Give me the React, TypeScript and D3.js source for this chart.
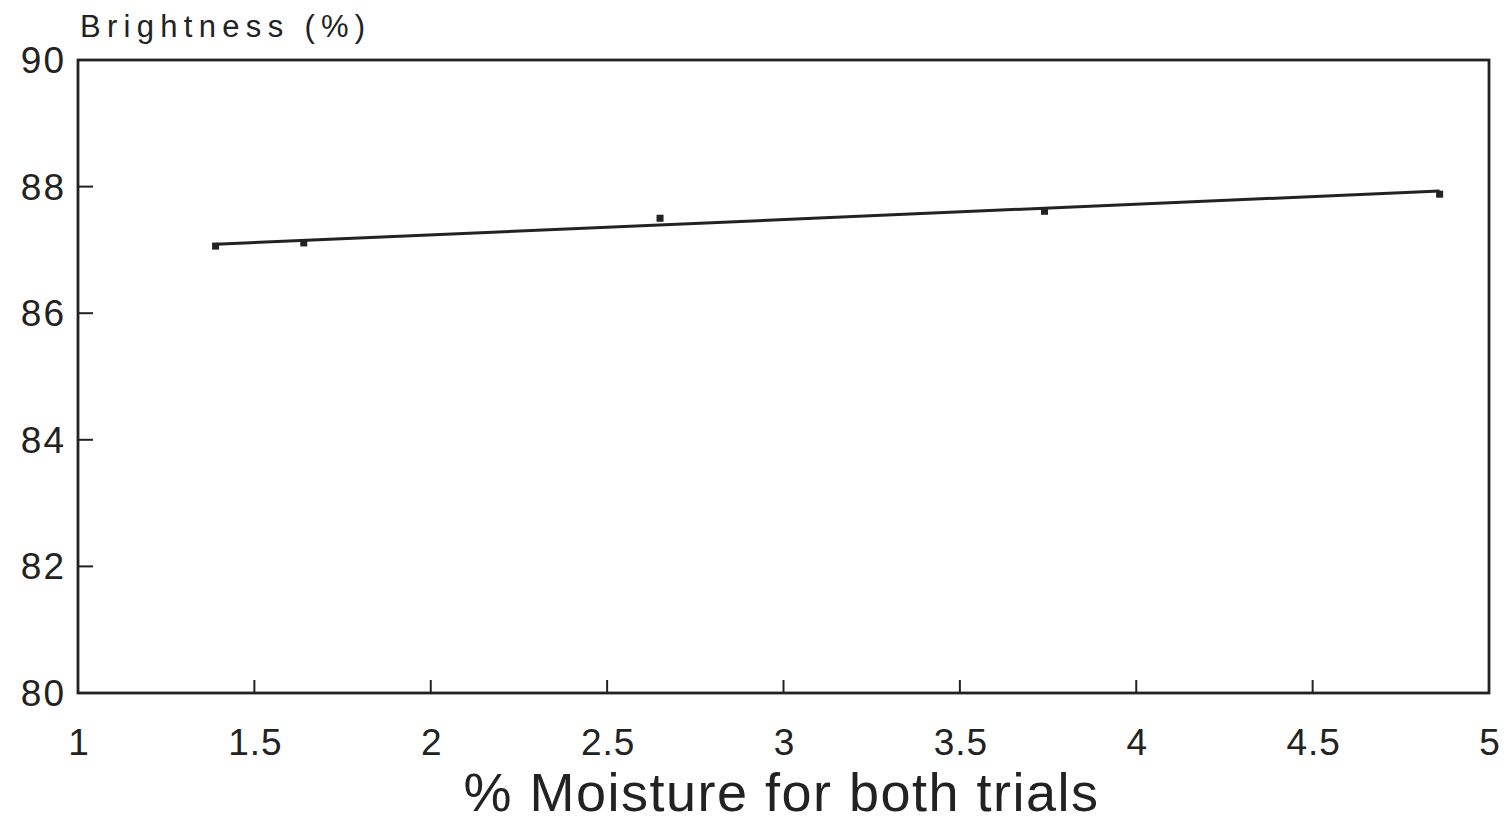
import React from "react";
import * as d3 from "d3";

const moisture = [1.39, 1.64, 2.65, 3.74, 4.86];
const brightness = [87.06, 87.11, 87.5, 87.61, 87.88];
const fitX = [1.39, 4.86];
const fitY = [87.09, 87.93];
const xTicks = [1, 1.5, 2, 2.5, 3, 3.5, 4, 4.5, 5];
const yTicks = [80, 82, 84, 86, 88, 90];
const xLabel = "% Moisture for both trials";
const yLabel = "Brightness (%)";

const W = 1509;
const H = 821;
const left = 78, right = 1489, top = 60, bottom = 693;
const font = "'Liberation Sans', Arial, sans-serif";

export default function App() {
  const x = d3.scaleLinear().domain([1, 5]).range([left, right]);
  const y = d3.scaleLinear().domain([80, 90]).range([bottom, top]);
  const line = d3.line<number>().x((d, i) => x(fitX[i])).y((d, i) => y(fitY[i]));
  return (
    <svg width={W} height={H} style={{ position: "absolute", left: 0, top: 0, background: "#fff" }}>
      <rect x={0} y={0} width={W} height={H} fill="#fff" />
      <rect x={left} y={top} width={right - left} height={bottom - top} fill="none" stroke="#222" strokeWidth={2.8} />
      {yTicks.map((t) => (
        <g key={"y" + t}>
          {t !== 80 && t !== 90 && (
            <line x1={left} x2={left + 15} y1={y(t)} y2={y(t)} stroke="#222" strokeWidth={2} />
          )}
          <text x={66} y={y(t) + 13} textAnchor="end" fontFamily={font} fontSize={37} letterSpacing={2} fill="#222">
            {t}
          </text>
        </g>
      ))}
      {xTicks.map((t) => (
        <g key={"x" + t}>
          {t !== 1 && t !== 5 && (
            <line x1={x(t)} x2={x(t)} y1={bottom} y2={bottom - 13} stroke="#222" strokeWidth={2} />
          )}
          <text x={x(t) + 1} y={755} textAnchor="middle" fontFamily={font} fontSize={37} letterSpacing={1} fill="#222">
            {t}
          </text>
        </g>
      ))}
      <text x={80} y={37} fontFamily={font} fontSize={31} letterSpacing={6.3} fill="#222">
        {yLabel}
      </text>
      <text x={(458 + 1105) / 2} y={811} textAnchor="middle" fontFamily={font} fontSize={54} letterSpacing={1.5} fill="#222">
        {xLabel}
      </text>
      <path d={line(fitY) || ""} fill="none" stroke="#222" strokeWidth={3} />
      {moisture.map((m, i) => (
        <rect key={"p" + i} x={x(m) - 3.5} y={y(brightness[i]) - 3.5} width={7} height={7} fill="#222" />
      ))}
    </svg>
  );
}
